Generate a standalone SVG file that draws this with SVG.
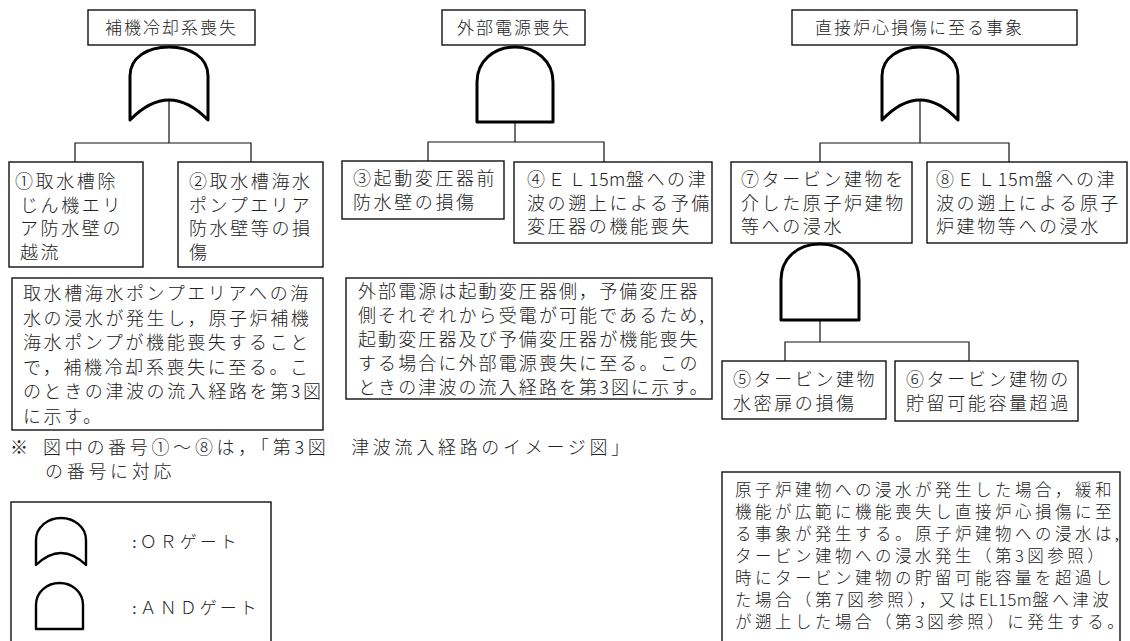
<svg xmlns="http://www.w3.org/2000/svg" width="1130" height="641" viewBox="0 0 1130 641">
<style>
.bg{fill:#fff}
.box{fill:#fff;stroke:#111;stroke-width:1.4}
.gate{fill:#fff;stroke:#000;stroke-width:3;stroke-linejoin:round}
.lgate{fill:#fff;stroke:#000;stroke-width:2.4;stroke-linejoin:round}
.wire{fill:none;stroke:#111;stroke-width:1.2}
text{font-family:"Noto Sans CJK JP","Noto Sans",sans-serif;fill:#222;font-size:18px;font-weight:300}
.t{letter-spacing:2.6px}
.d{letter-spacing:2.1px}
.d3{font-size:16.5px;letter-spacing:3.5px}
.h{font-size:17px;letter-spacing:2px}
.nt{letter-spacing:3.7px}
.n{letter-spacing:0.5px}
.lg{font-size:17px;letter-spacing:3px}
.lc{font-family:"Liberation Serif",serif}
</style>
<rect class="bg" x="0" y="0" width="1130" height="641"/>

<g id="connectors">
  <path class="wire" d="M169,100 V143 M75,162 V143 H251 V162"/>
  <path class="wire" d="M515,122 V142 M428,162 V142 H604 V162"/>
  <path class="wire" d="M920,100 V143 M820,162 V143 H1009 V162"/>
  <path class="wire" d="M820,320 V342 M785,361 V342 H969 V361"/>
</g>

<g id="top1">
  <rect class="box" x="88" y="10" width="167" height="35"/>
  <text class="h" x="105" y="34">補機冷却系喪失</text>
</g>
<g id="gate1">
  <path class="gate" d="M130,120 L130,76 C130,57 148,47 169,47 C190,47 208,57 208,76 L208,120 Q169,80 130,120 Z"/>
</g>
<g id="top2">
  <rect class="box" x="442" y="10" width="143" height="35"/>
  <text class="h" x="457" y="34">外部電源喪失</text>
</g>
<g id="gate2">
  <path class="gate" d="M477,122 L477,82 C477,61 494,47 515,47 C536,47 553,61 553,82 L553,122 Z"/>
</g>
<g id="top3">
  <rect class="box" x="792" y="10" width="285" height="35"/>
  <text class="h" x="815" y="34">直接炉心損傷に至る事象</text>
</g>
<g id="gate3">
  <path class="gate" d="M882,120 L882,76 C882,57 900,47 920,47 C940,47 958,57 958,76 L958,120 Q920,80 882,120 Z"/>
</g>

<g id="e1">
  <rect class="box" x="9" y="162" width="134" height="105"/>
  <text class="t" x="15" y="188">①取水槽除</text>
  <text class="t" x="20" y="211.5">じん機エリ</text>
  <text class="t" x="20" y="235">ア防水壁の</text>
  <text class="t" x="20" y="258.5">越流</text>
</g>
<g id="e2">
  <rect class="box" x="178" y="162" width="145" height="105"/>
  <text class="t" x="189" y="188">②取水槽海水</text>
  <text class="t" x="189" y="211.5">ポンプエリア</text>
  <text class="t" x="189" y="235">防水壁等の損</text>
  <text class="t" x="189" y="258.5">傷</text>
</g>
<g id="e3">
  <rect class="box" x="342" y="161" width="162" height="58"/>
  <text class="t" x="353" y="185">③起動変圧器前</text>
  <text class="t" x="353" y="208.5">防水壁の損傷</text>
</g>
<g id="e4">
  <rect class="box" x="514" y="162" width="198" height="81"/>
  <text class="t" x="527" y="186">④ＥＬ<tspan class="n">15m</tspan>盤への津</text>
  <text class="t" x="527" y="209.5">波の遡上による予備</text>
  <text class="t" x="527" y="233">変圧器の機能喪失</text>
</g>
<g id="e7">
  <rect class="box" x="731" y="162" width="181" height="81"/>
  <text class="t" x="741" y="186">⑦タービン建物を</text>
  <text class="t" x="741" y="209.5">介した原子炉建物</text>
  <text class="t" x="741" y="233">等への浸水</text>
</g>
<g id="e8">
  <rect class="box" x="927" y="162" width="200" height="81"/>
  <text class="t" x="936" y="186">⑧ＥＬ<tspan class="n">15m</tspan>盤への津</text>
  <text class="t" x="936" y="209.5">波の遡上による原子</text>
  <text class="t" x="936" y="233">炉建物等への浸水</text>
</g>
<g id="gate4">
  <path class="gate" d="M781,320 L781,280 C781,258 798,244 820,244 C842,244 859,258 859,280 L859,320 Z"/>
</g>
<g id="e5">
  <rect class="box" x="722" y="361" width="164" height="58"/>
  <text class="t" x="733" y="386">⑤タービン建物</text>
  <text class="t" x="733" y="409.5">水密扉の損傷</text>
</g>
<g id="e6">
  <rect class="box" x="895" y="361" width="183" height="60"/>
  <text class="t" x="906" y="386">⑥タービン建物の</text>
  <text class="t" x="906" y="409.5">貯留可能容量超過</text>
</g>

<g id="desc1">
  <rect class="box" x="12" y="278" width="311" height="152"/>
  <text class="t" x="23" y="300">取水槽海水ポンプエリアへの海</text>
  <text class="t" x="23" y="324.5">水の浸水が発生し，原子炉補機</text>
  <text class="t" x="23" y="349">海水ポンプが機能喪失すること</text>
  <text class="t" x="23" y="373.5">で，補機冷却系喪失に至る。こ</text>
  <text class="t" x="23" y="398">のときの津波の流入経路を第3図</text>
  <text class="t" x="23" y="422.5">に示す。</text>
</g>
<g id="desc2">
  <rect class="box" x="346" y="278" width="366" height="121"/>
  <text class="d" x="358" y="298">外部電源は起動変圧器側，予備変圧器</text>
  <text class="d" x="358" y="322">側それぞれから受電が可能であるため<tspan class="lc">,</tspan></text>
  <text class="d" x="358" y="346">起動変圧器及び予備変圧器が機能喪失</text>
  <text class="d" x="358" y="370">する場合に外部電源喪失に至る。この</text>
  <text class="d" x="358" y="394">ときの津波の流入経路を第3図に示す。</text>
</g>
<g id="desc3">
  <rect class="box" x="722" y="472" width="398" height="180"/>
  <text class="d3" x="735" y="496">原子炉建物への浸水が発生した場合，緩和</text>
  <text class="d3" x="735" y="518">機能が広範に機能喪失し直接炉心損傷に至</text>
  <text class="d3" x="735" y="540">る事象が発生する。原子炉建物への浸水は<tspan class="lc">,</tspan></text>
  <text class="d3" x="735" y="562">タービン建物への浸水発生（第3図参照）</text>
  <text class="d3" x="735" y="584">時にタービン建物の貯留可能容量を超過し</text>
  <text class="d3" x="735" y="606">た場合（第7図参照），又は<tspan class="n">EL15m</tspan>盤へ津波</text>
  <text class="d3" x="735" y="628">が遡上した場合（第3図参照）に発生する。</text>
</g>

<g id="note">
  <text class="nt" x="10" y="454">※</text>
  <text class="nt" x="43" y="454">図中の番号①～⑧は，「第3図　津波流入経路のイメージ図」</text>
  <text class="nt" x="45" y="478">の番号に対応</text>
</g>

<g id="legend">
  <rect class="box" x="11" y="502" width="260" height="150"/>
  <path class="lgate" d="M36,565 L36,540 C36,527 48,518 61,518 C74,518 86,527 86,540 L86,565 Q61,541 36,565 Z"/>
  <text class="lg" x="132" y="548"><tspan class="lc">:</tspan>ＯＲゲート</text>
  <path class="lgate" d="M36,629 L36,605 C36,592 47,583 59.5,583 C72,583 83,592 83,605 L83,629 Z"/>
  <text class="lg" x="132" y="614"><tspan class="lc">:</tspan>ＡＮＤゲート</text>
</g>
</svg>
